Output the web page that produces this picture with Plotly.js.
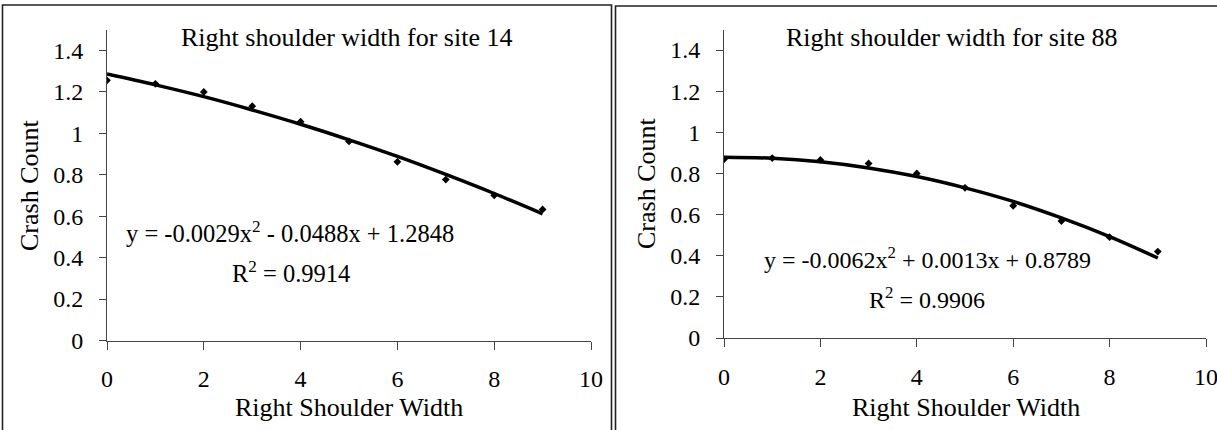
<!DOCTYPE html>
<html>
<head>
<meta charset="utf-8">
<script src="https://cdn.plot.ly/plotly-3.0.1.min.js"></script>
<style>html,body{margin:0;padding:0;background:#fff;}#chart{width:1217px;height:430px;}</style>
</head>
<body>
<div id="chart"></div>
<script>
// Data
var widths = [0, 1, 2, 3, 4, 5, 6, 7, 8, 9];
var site14Obs = [1.255, 1.238, 1.199, 1.130, 1.055, 0.960, 0.862, 0.776, 0.700, 0.632];
var site14Trend = [1.285, 1.233, 1.176, 1.112, 1.043, 0.968, 0.888, 0.801, 0.709, 0.611];
var site88Obs = [0.869, 0.875, 0.866, 0.849, 0.800, 0.730, 0.643, 0.569, 0.490, 0.420];
var site88Trend = [0.879, 0.874, 0.857, 0.827, 0.785, 0.730, 0.664, 0.584, 0.493, 0.389];
var xTicks = [0, 2, 4, 6, 8, 10];
var yTicks = [0, 0.2, 0.4, 0.6, 0.8, 1, 1.2, 1.4];
var yTickText = ['0', '0.2', '0.4', '0.6', '0.8', '1', '1.2', '1.4'];
var titles = ['Right shoulder width for site 14', 'Right shoulder width for site 88'];
var equations = ['y = -0.0029x<sup>2</sup> - 0.0488x + 1.2848', 'y = -0.0062x<sup>2</sup> + 0.0013x + 0.8789'];
var rSquared = ['R<sup>2</sup> = 0.9914', 'R<sup>2</sup> = 0.9906'];
var xTitle = 'Right Shoulder Width';
var yTitle = 'Crash Count';

var W = 1217, H = 430;
function px(x) { return x / W; }
function py(y) { return 1 - y / H; }
var FONT = 'Liberation Serif';

var traces = [
  {x: widths, y: site14Obs, xaxis: 'x', yaxis: 'y', mode: 'markers', type: 'scatter',
   marker: {symbol: 'diamond', size: 6, color: '#000'}},
  {x: widths, y: site14Trend, xaxis: 'x', yaxis: 'y', mode: 'lines', type: 'scatter',
   line: {color: '#000', width: 3.5, shape: 'spline'}},
  {x: widths, y: site88Obs, xaxis: 'x2', yaxis: 'y2', mode: 'markers', type: 'scatter',
   marker: {symbol: 'diamond', size: 6, color: '#000'}},
  {x: widths, y: site88Trend, xaxis: 'x2', yaxis: 'y2', mode: 'lines', type: 'scatter',
   line: {color: '#000', width: 3.5, shape: 'spline'}}
];

function xAxis(d0, d1, anchor) {
  return {domain: [px(d0), px(d1)], anchor: anchor, range: [0, 10], tickmode: 'array',
    tickvals: xTicks, ticktext: xTicks.map(String), ticks: 'outside', ticklen: 8, tickwidth: 1,
    tickcolor: '#444', showline: true, linecolor: '#444', linewidth: 1, showgrid: false,
    zeroline: false, ticklabelstandoff: 9, ticklabeloverflow: 'allow',
    tickfont: {family: FONT, size: 24, color: '#000'}, fixedrange: true};
}
function yAxis(yTop, yBottom, anchor) {
  return {domain: [py(yBottom), py(yTop)], anchor: anchor, range: [0, 1.5], tickmode: 'array',
    tickvals: yTicks, ticktext: yTickText, ticks: 'outside', ticklen: 7, tickwidth: 1,
    tickcolor: '#444', showline: true, linecolor: '#444', linewidth: 1, showgrid: false,
    zeroline: false, ticklabelstandoff: 11, ticklabeloverflow: 'allow',
    tickfont: {family: FONT, size: 24, color: '#000'}, fixedrange: true};
}

function ann(text, x, y, size, angle) {
  return {text: text, xref: 'paper', yref: 'paper', x: px(x), y: py(y), xanchor: 'center',
    yanchor: 'middle', showarrow: false, textangle: angle || 0,
    font: {family: FONT, size: size, color: '#000'}};
}

var layout = {
  width: W, height: H, margin: {l: 0, r: 0, t: 0, b: 0},
  paper_bgcolor: '#fff', plot_bgcolor: 'rgba(0,0,0,0)', showlegend: false,
  font: {family: FONT, color: '#000'},
  xaxis: xAxis(107, 591, 'y'),
  yaxis: yAxis(29.5, 340.5, 'x'),
  xaxis2: xAxis(724, 1206, 'y2'),
  yaxis2: yAxis(29.5, 338, 'x2'),
  annotations: [
    ann(titles[0], 346, 38, 26),
    ann(equations[0], 290, 232, 24.5),
    ann(rSquared[0], 291, 272, 24.5),
    ann(xTitle, 349, 407, 26),
    ann(yTitle, 29, 185, 26, -90),
    ann(titles[1], 951, 38, 26),
    ann(equations[1], 927, 258, 24),
    ann(rSquared[1], 927, 298, 24),
    ann(xTitle, 966, 407, 26),
    ann(yTitle, 646, 183, 26, -90)
  ],
  shapes: [
    {type: 'rect', xref: 'paper', yref: 'paper', x0: px(2.5), x1: px(611.5), y0: py(440), y1: py(5),
     line: {color: '#222', width: 1.6}},
    {type: 'rect', xref: 'paper', yref: 'paper', x0: px(615.5), x1: px(1240), y0: py(440), y1: py(6),
     line: {color: '#222', width: 1.6}}
  ]
};

Plotly.newPlot('chart', traces, layout, {displayModeBar: false, staticPlot: true});
</script>
</body>
</html>
